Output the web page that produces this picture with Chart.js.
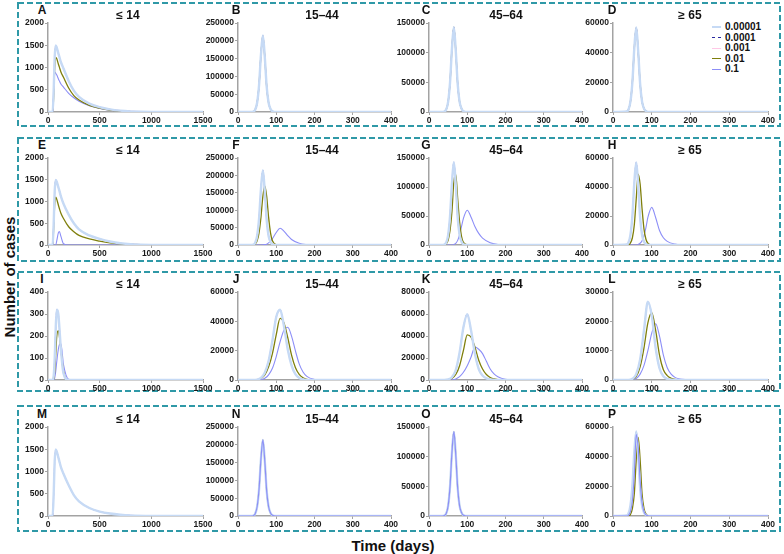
<!DOCTYPE html>
<html lang="en">
<head>
<meta charset="UTF-8" />
<title>Number of cases by age group</title>
<script src="https://cdn.jsdelivr.net/npm/chart.js"></script>
<style>
  body {
    margin: 0;
    width: 784px;
    height: 554px;
    position: relative;
    overflow: hidden;
    background: #ffffff;
    font-family: 'Liberation Sans', Arial, sans-serif;
    color: #111;
  }
  #frames { position: absolute; left: 0; top: 0; }
  .panel { position: absolute; }
  .letter, .title {
    position: absolute;
    font-weight: bold;
    white-space: nowrap;
    transform: translate(-50%, -50%);
  }
  .letter { font-size: 12px; }
  .title { font-size: 12px; }
  .axis-title {
    position: absolute;
    font-weight: bold;
    font-size: 15px;
    white-space: nowrap;
    transform: translate(-50%, -50%);
  }
  #ylab { transform: translate(-50%, -50%) rotate(-90deg); }
  #legend { position: absolute; left: 712px; top: 22px; font-size: 10px; font-weight: bold; }
  #legend .item { height: 10.5px; line-height: 10.5px; display: flex; align-items: center; }
  #legend .swatch { width: 9px; margin-right: 4px; }
</style>
</head>
<body>
<svg id="frames" width="784" height="554">
  <g fill="none" stroke="#2f99a7" stroke-width="2" stroke-dasharray="6 3">
    <rect x="18" y="3" width="762" height="123" />
    <rect x="18" y="138" width="762" height="123" />
    <rect x="18" y="272" width="762" height="119" />
    <rect x="18" y="406" width="762" height="125" />
  </g>
</svg>
<div id="ylab" class="axis-title" style="left:9px; top:277px;">Number of cases</div>
<div class="axis-title" style="left:393px; top:545px;">Time (days)</div>
<div id="legend"></div>

<script>
  const rates = ['0.00001', '0.0001', '0.001', '0.01', '0.1'];
  const ageGroups = ['\u2264 14', '15\u201344', '45\u201364', '\u2265 65'];
  const panelLetters = ['A', 'B', 'C', 'D', 'E', 'F', 'G', 'H', 'I', 'J', 'K', 'L', 'M', 'N', 'O', 'P'];

  // x values (days)
  const daysLong = [0, 45, 55, 65, 75, 85, 100, 110, 125, 150, 200, 250, 300, 400, 500, 600, 700, 800, 1000, 1500];
  const daysPeak = [0, 35, 40, 45, 50, 55, 60, 65, 70, 75, 80, 85, 90, 100, 110, 120, 130, 140, 160, 180, 200, 400];
  const daysWide = [0, 40, 50, 60, 70, 80, 90, 100, 110, 120, 130, 140, 150, 160, 170, 180, 200, 220, 400];

  // axis ticks
  const xMaxes = [1500, 400, 400, 400];
  const xSteps = [500, 100, 100, 100];
  const yMaxes = [
    [2000, 250000, 150000, 60000],
    [2000, 250000, 150000, 60000],
    [400, 60000, 80000, 30000],
    [2000, 250000, 150000, 60000]
  ];
  const ySteps = [
    [500, 50000, 50000, 20000],
    [500, 50000, 50000, 20000],
    [100, 20000, 20000, 10000],
    [500, 50000, 50000, 20000]
  ];

  // row 1
  const aLow  = [0, 0, 500, 1250, 1500, 1450, 1320, 1240, 1120, 980, 700, 480, 340, 190, 110, 60, 30, 15, 3, 0];
  const aMid  = [0, 0, 350, 1000, 1230, 1200, 1080, 1010, 900, 780, 540, 370, 270, 150, 85, 45, 22, 10, 2, 0];
  const aHigh = [0, 0, 450, 900, 870, 830, 750, 700, 630, 560, 420, 320, 240, 140, 80, 42, 20, 9, 2, 0];
  const bAll  = [0, 0, 1000, 6500, 26000, 75000, 161000, 215000, 155000, 71000, 26000, 8600, 2000, 0, 0, 0, 0, 0, 0, 0, 0, 0];
  const cAll  = [0, 0, 700, 4300, 17000, 50000, 107000, 143000, 103000, 47000, 17000, 5700, 1400, 0, 0, 0, 0, 0, 0, 0, 0, 0];
  const dAll  = [0, 300, 1700, 7000, 20000, 43000, 57000, 41000, 19000, 7000, 2300, 600, 100, 0, 0, 0, 0, 0, 0, 0, 0, 0];

  // row 2
  const eLow  = [0, 0, 500, 1250, 1500, 1450, 1330, 1250, 1120, 950, 700, 500, 360, 220, 140, 80, 40, 20, 4, 0];
  const eMid  = [0, 0, 400, 950, 1100, 1050, 920, 840, 730, 610, 420, 305, 220, 140, 90, 50, 25, 12, 2, 0];
  const eHigh = [0, 0, 0, 0, 0, 100, 280, 310, 200, 30, 0, 0, 0, 0, 0, 0, 0, 0, 0, 0];
  const fLow  = [0, 0, 1000, 6500, 26000, 75000, 161000, 215000, 155000, 71000, 26000, 8600, 2000, 0, 0, 0, 0, 0, 0, 0, 0, 0];
  const fMid  = [0, 0, 0, 3000, 12000, 35000, 80000, 140000, 170000, 140000, 80000, 35000, 12000, 1000, 0, 0, 0, 0, 0, 0, 0, 0];
  const fHigh = [0, 0, 0, 0, 0, 0, 0, 300, 1000, 2500, 6000, 11000, 18000, 36000, 48000, 40000, 27000, 16000, 5000, 1200, 100, 0];
  const gLow  = [0, 0, 700, 4300, 17000, 50000, 107000, 143000, 103000, 47000, 17000, 5700, 1400, 0, 0, 0, 0, 0, 0, 0, 0, 0];
  const gMid  = [0, 0, 0, 2000, 8000, 25000, 58000, 110000, 122000, 80000, 40000, 15000, 4500, 400, 0, 0, 0, 0, 0, 0, 0, 0];
  const gHigh = [0, 0, 0, 0, 0, 0, 0, 1000, 3000, 8000, 18000, 32000, 46000, 60000, 48000, 32000, 20000, 12000, 4000, 1000, 0, 0];
  const hLow  = [0, 300, 1700, 7000, 20000, 43000, 57000, 41000, 19000, 7000, 2300, 600, 100, 0, 0, 0, 0, 0, 0, 0, 0, 0];
  const hMid  = [0, 0, 0, 1500, 5000, 14000, 32000, 49000, 42000, 25000, 11000, 4000, 1200, 100, 0, 0, 0, 0, 0, 0, 0, 0];
  const hHigh = [0, 0, 0, 0, 0, 0, 0, 400, 1200, 3000, 6500, 12000, 19000, 26000, 19000, 10000, 5000, 2500, 600, 100, 0, 0];

  // row 3
  const iLow  = [0, 0, 20, 100, 240, 320, 300, 240, 140, 30, 0, 0, 0, 0, 0, 0, 0, 0, 0, 0];
  const iMid  = [0, 0, 5, 40, 120, 200, 225, 200, 140, 40, 0, 0, 0, 0, 0, 0, 0, 0, 0, 0];
  const iHigh = [0, 0, 0, 10, 40, 85, 140, 160, 165, 70, 3, 0, 0, 0, 0, 0, 0, 0, 0, 0];
  const jLow  = [0, 0, 300, 1500, 5000, 13000, 27000, 43000, 48000, 37000, 21000, 10000, 4000, 1400, 400, 100, 0, 0, 0];
  const jMid  = [0, 0, 200, 1000, 3500, 9000, 18000, 31000, 42000, 39000, 29000, 17000, 8500, 3800, 1500, 500, 50, 0, 0];
  const jHigh = [0, 0, 0, 300, 1200, 3500, 8000, 16000, 26000, 34000, 36000, 30000, 20000, 11000, 5500, 2500, 400, 0, 0];
  const kLow  = [0, 0, 500, 2500, 9000, 25000, 48000, 60000, 45000, 24000, 10000, 4000, 1500, 500, 150, 0, 0, 0, 0];
  const kMid  = [0, 0, 300, 1500, 5000, 13000, 27000, 41000, 39000, 30000, 18000, 10000, 5000, 2300, 1000, 400, 50, 0, 0];
  const kHigh = [0, 0, 0, 200, 1000, 3000, 7000, 13000, 21000, 30000, 28000, 24000, 17000, 10000, 5500, 3000, 700, 100, 0];
  const lLow  = [0, 0, 400, 2000, 7000, 17000, 26700, 22000, 11000, 4000, 1300, 400, 100, 0, 0, 0, 0, 0, 0];
  const lMid  = [0, 0, 200, 1200, 4500, 11000, 19500, 23000, 17000, 8500, 3500, 1500, 600, 200, 50, 0, 0, 0, 0];
  const lHigh = [0, 0, 100, 500, 2000, 5000, 10000, 16000, 19200, 15000, 8500, 4200, 2000, 900, 400, 200, 0, 0, 0];

  // row 4
  const mLow  = [0, 0, 500, 1250, 1500, 1450, 1320, 1230, 1100, 950, 690, 470, 330, 180, 100, 55, 28, 13, 3, 0];
  const nAll  = [0, 0, 1000, 6500, 26000, 75000, 160000, 214000, 155000, 70000, 26000, 8600, 2000, 0, 0, 0, 0, 0, 0, 0, 0, 0];
  const oAll  = [0, 0, 700, 4300, 17000, 50000, 107000, 142000, 103000, 47000, 17000, 5700, 1400, 0, 0, 0, 0, 0, 0, 0, 0, 0];
  const pLow  = [0, 300, 1700, 7000, 20000, 43000, 57000, 41000, 19000, 7000, 2300, 600, 100, 0, 0, 0, 0, 0, 0, 0, 0, 0];
  const pMid  = [0, 0, 0, 1000, 5000, 15000, 38000, 53000, 38000, 15000, 5000, 1500, 300, 0, 0, 0, 0, 0, 0, 0, 0, 0];
  const pHigh = [0, 0, 500, 3000, 10000, 28000, 55000, 46000, 24000, 9000, 3000, 800, 200, 0, 0, 0, 0, 0, 0, 0, 0, 0];

  // series per panel, in the order of rates (null = not drawn)
  const panelSeries = [
    [aLow, aLow, aLow, aMid, aHigh], [bAll, bAll, bAll, bAll, bAll], [cAll, cAll, cAll, cAll, cAll], [dAll, dAll, dAll, dAll, dAll],
    [eLow, eLow, eLow, eMid, eHigh], [fLow, fLow, fLow, fMid, fHigh], [gLow, gLow, gLow, gMid, gHigh], [hLow, hLow, hLow, hMid, hHigh],
    [iLow, iLow, iLow, iMid, iHigh], [jLow, jLow, jLow, jMid, jHigh], [kLow, kLow, kLow, kMid, kHigh], [lLow, lLow, lLow, lMid, lHigh],
    [mLow, mLow, mLow, null, null], [nAll, nAll, nAll, nAll, nAll], [oAll, oAll, oAll, oAll, oAll], [pLow, pLow, pLow, pMid, pHigh]
  ];
  const panelDays = [daysLong, daysPeak, daysPeak, daysPeak, daysLong, daysPeak, daysPeak, daysPeak,
                     daysLong, daysWide, daysWide, daysWide, daysLong, daysPeak, daysPeak, daysPeak];

  // --- layout and style ---
  const colX = [48, 238, 429, 613];
  const colW = [155, 153, 153, 155];
  const rowY = [23, 158, 292, 427];
  const rowH = [89, 87, 88, 89];
  const letterX = [42, 236, 426, 612];
  const titleX = [128, 322, 506, 690];
  const yAxisW = 46, padTop = 6, padRight = 12, xAxisH = 16;

  const rateColors = ['#c6daf5', '#2a2aa0', '#ffc8e6', '#7f7f0c', '#8c8ef7'];
  const rateWidths = [2.4, 0.6, 1.2, 1.3, 1.1];
  const axisColor = '#a3a3a3';
  const tickFont = { family: "'Liberation Sans', Arial, sans-serif", size: 8.5, weight: 'bold' };

  // legend (panel D)
  const legend = document.getElementById('legend');
  rates.forEach((r, i) => {
    const item = document.createElement('div');
    item.className = 'item';
    const sw = document.createElement('span');
    sw.className = 'swatch';
    sw.style.borderTop = (i === 0 ? 2 : 1) + 'px ' + (i === 1 ? 'dashed ' : 'solid ') + rateColors[i];
    item.appendChild(sw);
    item.appendChild(document.createTextNode(r));
    legend.appendChild(item);
  });

  function makeDataset(i, days, values, topIdx) {
    return {
      label: rates[i],
      data: days.map((d, k) => ({ x: d, y: values[k] })),
      borderColor: rateColors[i],
      borderWidth: rateWidths[i],
      borderDash: i === 1 ? [3, 2] : [],
      pointRadius: 0,
      fill: false,
      cubicInterpolationMode: 'monotone',
      order: i === topIdx ? -1 : i
    };
  }

  panelLetters.forEach((letter, p) => {
    const row = Math.floor(p / 4), col = p % 4;
    const plotX = colX[col], plotY = rowY[row];

    const wrap = document.createElement('div');
    wrap.className = 'panel';
    wrap.style.left = (plotX - yAxisW) + 'px';
    wrap.style.top = (plotY - padTop) + 'px';
    const canvas = document.createElement('canvas');
    canvas.width = yAxisW + colW[col] + padRight;
    canvas.height = padTop + rowH[row] + xAxisH;
    wrap.appendChild(canvas);
    document.body.appendChild(wrap);

    const lab = document.createElement('div');
    lab.className = 'letter';
    lab.textContent = letter;
    lab.style.left = letterX[col] + 'px';
    lab.style.top = (plotY - 13) + 'px';
    document.body.appendChild(lab);

    const ttl = document.createElement('div');
    ttl.className = 'title';
    ttl.textContent = ageGroups[col];
    ttl.style.left = titleX[col] + 'px';
    ttl.style.top = (plotY - 8) + 'px';
    document.body.appendChild(ttl);

    const topIdx = row === 3 ? 4 : 0;
    const datasets = [];
    panelSeries[p].forEach((vals, i) => {
      if (vals) datasets.push(makeDataset(i, panelDays[p], vals, topIdx));
    });

    new Chart(canvas, {
      type: 'line',
      data: { datasets: datasets },
      options: {
        responsive: false,
        animation: false,
        layout: { padding: { top: padTop, right: padRight, left: 0, bottom: 0 } },
        plugins: { legend: { display: false }, tooltip: { enabled: false } },
        scales: {
          x: {
            type: 'linear',
            min: 0,
            max: xMaxes[col],
            ticks: { stepSize: xSteps[col], font: tickFont, color: '#1a1a1a', padding: 1, maxRotation: 0, autoSkip: false, callback: v => String(v) },
            grid: { drawOnChartArea: false, drawTicks: true, tickLength: 3, color: axisColor },
            border: { color: axisColor, width: 1.5 },
            afterFit: s => { s.height = xAxisH; }
          },
          y: {
            min: 0,
            max: yMaxes[row][col],
            ticks: { stepSize: ySteps[row][col], font: tickFont, color: '#1a1a1a', padding: 1, autoSkip: false, callback: v => String(v) },
            grid: { drawOnChartArea: false, drawTicks: true, tickLength: 3, color: axisColor },
            border: { color: axisColor, width: 1.5 },
            afterFit: s => { s.width = yAxisW; }
          }
        }
      }
    });
  });
</script>
</body>
</html>
